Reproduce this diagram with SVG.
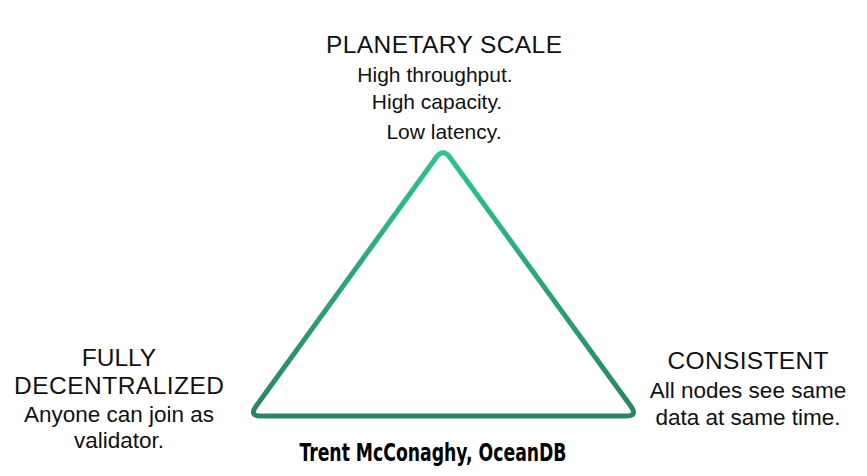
<svg xmlns="http://www.w3.org/2000/svg" width="867" height="476" viewBox="0 0 867 476">
<style>
text{font-family:"Liberation Sans",Arial,sans-serif;fill:#111;text-anchor:middle}
.t{font-size:24.5px}
.b{font-size:21px}
.c{font-size:22.5px}
.a{font-family:"DejaVu Sans Condensed","DejaVu Sans",sans-serif;font-weight:bold;font-stretch:condensed;font-size:24px;fill:#000}
</style>
<defs>
<linearGradient id="g" x1="0" y1="148" x2="0" y2="416" gradientUnits="userSpaceOnUse">
<stop offset="0" stop-color="#2ec58d"/>
<stop offset="1" stop-color="#2b8464"/>
</linearGradient>
</defs>
<rect width="867" height="476" fill="#fff"/>
<g id="connectors">
<path d="M436,157.7 Q443,148 450.1,157.7 L630.9,406.3 Q638,416 626,416 L261,416 Q249,416 256,406.3 Z" fill="none" stroke="url(#g)" stroke-width="5" stroke-linejoin="round"/>
</g>
<g id="planetary">
<text class="t" x="444" y="53" textLength="236">PLANETARY SCALE</text>
<text class="b" x="435" y="82">High throughput.</text>
<text class="b" x="437" y="109">High capacity.</text>
<text class="b" x="444" y="139">Low latency.</text>
</g>
<g id="decentralized">
<text class="t" x="119" y="366">FULLY</text>
<text class="t" x="119" y="394" textLength="210">DECENTRALIZED</text>
<text class="c" x="119" y="422">Anyone can join as</text>
<text class="c" x="119" y="448">validator.</text>
</g>
<g id="consistent">
<text class="t" x="748" y="369" textLength="161">CONSISTENT</text>
<text class="c" x="748" y="398">All nodes see same</text>
<text class="c" x="748" y="425">data at same time.</text>
</g>
<g id="attribution">
<text class="a" x="433" y="461" textLength="267" lengthAdjust="spacingAndGlyphs">Trent McConaghy, OceanDB</text>
</g>
</svg>
